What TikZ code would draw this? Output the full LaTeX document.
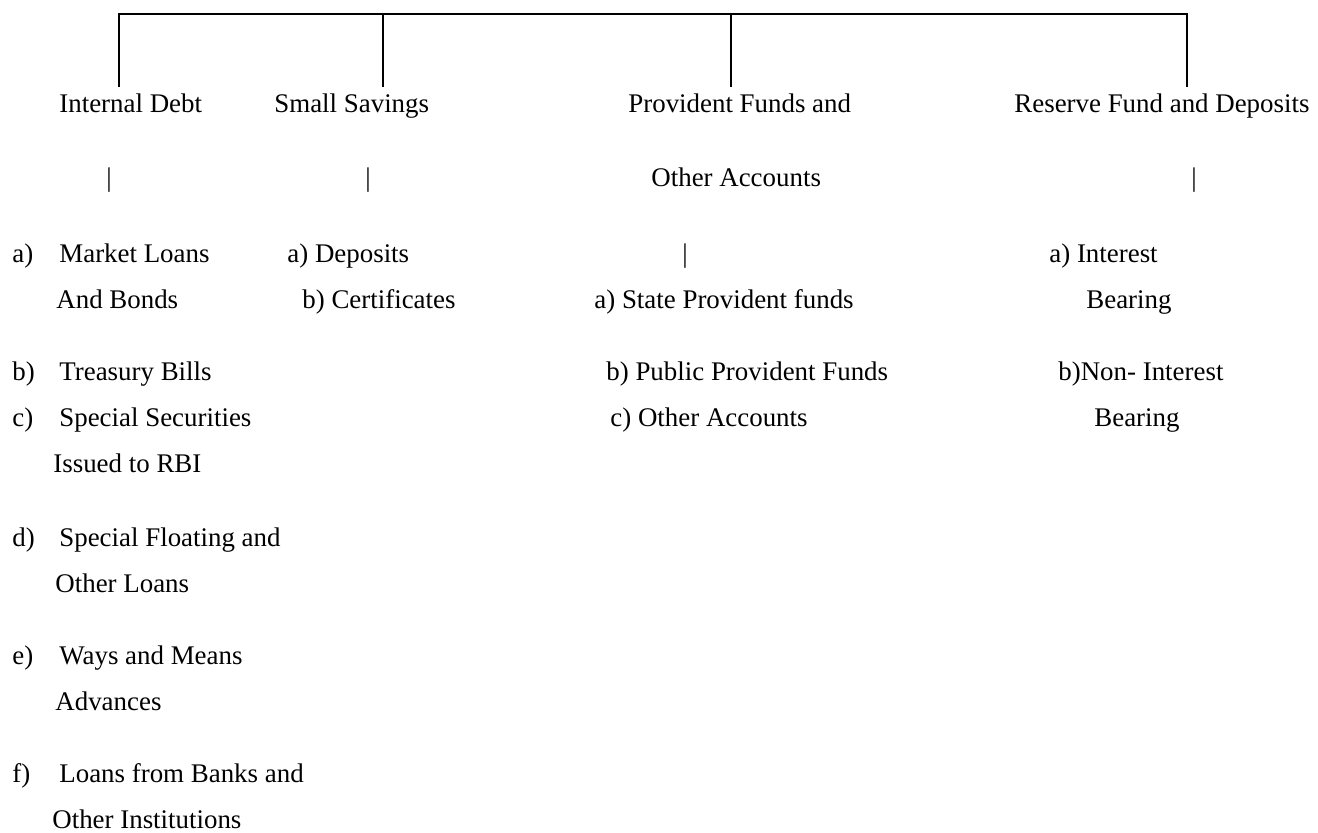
\documentclass[tikz,border=0pt]{standalone}
\usepackage{fontspec}
\setmainfont{Liberation Serif}

\begin{document}
\begin{tikzpicture}[x=0.5pt,y=-0.5pt,
  txt/.style={anchor=base west,inner sep=0pt,font=\fontsize{13.45}{16}\selectfont},
  bar/.style={anchor=base,inner sep=0pt,font=\fontsize{13.45}{16}\selectfont},
  branch/.style={line width=1.4pt,line join=miter}]
\useasboundingbox (0,0) rectangle (1318,832);
% top bracket
\coordinate (t1) at (119,14);
\coordinate (t2) at (383,14);
\coordinate (t3) at (731,14);
\coordinate (t4) at (1187,14);
\coordinate (d1) at (119,87);
\coordinate (d2) at (383,87);
\coordinate (d3) at (731,87);
\coordinate (d4) at (1187,87);
\draw[branch] (d1) -- (t1) -- (t4) -- (d4);
\draw[branch] (t2) -- (d2);
\draw[branch] (t3) -- (d3);
% heads
\node[txt] (debt) at (59,112) {Internal Debt};
\node[txt] (sav) at (274,112) {Small Savings};
\node[txt] (pf) at (628,112) {Provident Funds and};
\node[txt] (pf2) at (651,186) {Other Accounts};
\node[txt] (res) at (1014,112) {Reserve Fund and Deposits};
\node[bar] (debtbar) at (109,186) {|};
\node[bar] (savbar) at (368,186) {|};
\node[bar] (pfbar) at (685,262) {|};
\node[bar] (resbar) at (1194,186) {|};
% internal debt
\node[txt] (la) at (12,262) {a)};
\node[txt] (debta) at (59,262) {Market Loans};
\node[txt] (debta2) at (56,308) {And Bonds};
\node[txt] (lb) at (12,380) {b)};
\node[txt] (debtb) at (59,380) {Treasury Bills};
\node[txt] (lc) at (12,426) {c)};
\node[txt] (debtc) at (59,426) {Special Securities};
\node[txt] (debtc2) at (53,472) {Issued to RBI};
\node[txt] (ld) at (12,546) {d)};
\node[txt] (debtd) at (59,546) {Special Floating and};
\node[txt] (debtd2) at (55,592) {Other Loans};
\node[txt] (le) at (12,664) {e)};
\node[txt] (debte) at (59,664) {Ways and Means};
\node[txt] (debte2) at (55,710) {Advances};
\node[txt] (lf) at (12,782) {f)};
\node[txt] (debtf) at (59,782) {Loans from Banks and};
\node[txt] (debtf2) at (52,828) {Other Institutions};
% small savings
\node[txt] (sava) at (287,262) {a) Deposits};
\node[txt] (savb) at (302,308) {b) Certificates};
% provident funds
\node[txt] (pfa) at (594,308) {a) State Provident funds};
\node[txt] (pfb) at (606,380) {b) Public Provident Funds};
\node[txt] (pfc) at (610,426) {c) Other Accounts};
% reserve fund
\node[txt] (resa) at (1049,262) {a) Interest};
\node[txt] (resa2) at (1086,308) {Bearing};
\node[txt] (resb) at (1058,380) {b)Non- Interest};
\node[txt] (resb2) at (1094,426) {Bearing};
\end{tikzpicture}
\end{document}
